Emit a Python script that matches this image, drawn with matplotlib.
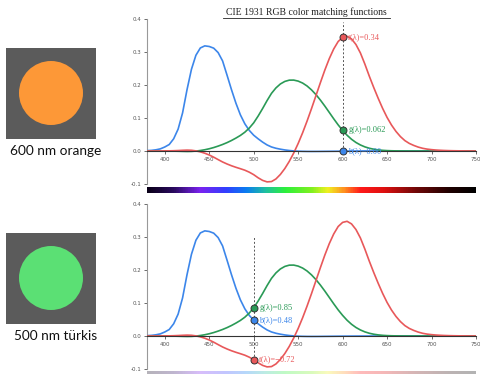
import matplotlib
matplotlib.use("Agg")
import matplotlib.pyplot as plt
import numpy as np
from matplotlib.colors import LinearSegmentedColormap
from matplotlib.patches import Circle, Rectangle

# CIE 1931 RGB colour matching functions, 5 nm steps
wl = np.arange(380, 755, 5)
r_bar = [0.00003, 0.00005, 0.00010, 0.00017, 0.00030, 0.00047, 0.00084, 0.00139, 0.00211, 0.00266,
         0.00218, 0.00036, -0.00261, -0.00673, -0.01213, -0.01874, -0.02608, -0.03324, -0.03933, -0.04471,
         -0.04939, -0.05364, -0.05814, -0.06414, -0.07173, -0.08120, -0.08901, -0.09356, -0.09264, -0.08473,
         -0.07101, -0.05316, -0.03152, -0.00613, 0.02279, 0.05514, 0.09060, 0.12840, 0.16768, 0.20715,
         0.24526, 0.27989, 0.30928, 0.33184, 0.34429, 0.34756, 0.33971, 0.32265, 0.29708, 0.26348,
         0.22677, 0.19233, 0.15968, 0.12905, 0.10167, 0.07857, 0.05932, 0.04366, 0.03149, 0.02294,
         0.01687, 0.01187, 0.00819, 0.00572, 0.00410, 0.00291, 0.00210, 0.00148, 0.00105, 0.00074,
         0.00052, 0.00036, 0.00025, 0.00017, 0.00012]
g_bar = [-0.00001, -0.00002, -0.00004, -0.00007, -0.00014, -0.00022, -0.00041, -0.00070, -0.00110, -0.00143,
         -0.00119, -0.00021, 0.00149, 0.00379, 0.00678, 0.01046, 0.01485, 0.01977, 0.02538, 0.03183,
         0.03914, 0.04713, 0.05689, 0.06948, 0.08536, 0.10593, 0.12860, 0.15262, 0.17468, 0.19113,
         0.20317, 0.21083, 0.21466, 0.21487, 0.21178, 0.20588, 0.19702, 0.18522, 0.17087, 0.15429,
         0.13610, 0.11686, 0.09754, 0.07909, 0.06246, 0.04776, 0.03557, 0.02583, 0.01828, 0.01253,
         0.00833, 0.00537, 0.00334, 0.00199, 0.00116, 0.00066, 0.00037, 0.00021, 0.00011, 0.00006,
         0.00003, 0.00001, 0.00001, 0.0, 0.0, 0.0, 0.0, 0.0, 0.0, 0.0,
         0.0, 0.0, 0.0, 0.0, 0.0]
b_bar = [0.00117, 0.00189, 0.00359, 0.00647, 0.01214, 0.01969, 0.03707, 0.06637, 0.11541, 0.18575,
         0.24769, 0.29012, 0.31228, 0.31860, 0.31670, 0.31166, 0.29821, 0.27295, 0.22991, 0.18592,
         0.14494, 0.10968, 0.08257, 0.06246, 0.04776, 0.03688, 0.02698, 0.01842, 0.01221, 0.00830,
         0.00549, 0.00320, 0.00146, 0.00023, -0.00058, -0.00105, -0.00130, -0.00138, -0.00135, -0.00123,
         -0.00108, -0.00093, -0.00079, -0.00063, -0.00049, -0.00038, -0.00030, -0.00022, -0.00015, -0.00011,
         -0.00008, -0.00005, -0.00003, -0.00002, -0.00001, -0.00001, 0.0, 0.0, 0.0, 0.0,
         0.0, 0.0, 0.0, 0.0, 0.0, 0.0, 0.0, 0.0, 0.0, 0.0,
         0.0, 0.0, 0.0, 0.0, 0.0]

# the two marked wavelengths and their labels
panels = [
    {"nm": 600, "name": "600 nm orange", "swatch": "#fd9837", "dash": (0.0, 0.39),
     "labels": {"r": "r̄(λ)=0.34", "g": "ḡ(λ)=0.062", "b": "b̄(λ)=0.00"}},
    {"nm": 500, "name": "500 nm türkis", "swatch": "#5be074", "dash": (-0.072, 0.30),
     "labels": {"r": "r̄(λ)=−0.72", "g": "ḡ(λ)=0.85", "b": "b̄(λ)=0.48"}},
]

red, green, blue = "#e8585a", "#2a9a56", "#3c86ea"
curves = {"r": (r_bar, red), "g": (g_bar, green), "b": (b_bar, blue)}

spectrum = LinearSegmentedColormap.from_list("spec", [
    (0.0, "#0a0018"), (0.08, "#2a0a60"), (0.16, "#7a22f0"), (0.24, "#3040ff"),
    (0.30, "#0a7cf0"), (0.36, "#20c0a0"), (0.42, "#2cf03c"), (0.50, "#80f020"),
    (0.55, "#f0f020"), (0.60, "#ff9020"), (0.65, "#ff1a1a"), (0.72, "#e01010"),
    (0.82, "#700808"), (0.92, "#200000"), (1.0, "#000000")])

W, H = 480, 374
fig = plt.figure(figsize=(W / 100, H / 100), dpi=100)
serif = ["Liberation Serif", "DejaVu Serif"]

ax_tops = [19, 204]
for p, top in zip(panels, ax_tops):
    bottom = top + 165
    ax = fig.add_axes([147 / W, 1 - bottom / H, 329 / W, 165 / H])
    for key in ["b", "g", "r"]:
        vals, col = curves[key]
        ax.plot(wl, vals, color=col, lw=1.2, zorder=3)
    ax.set_xlim(380, 750)
    ax.set_ylim(-0.1, 0.4)
    ax.spines["top"].set_visible(False)
    ax.spines["right"].set_visible(False)
    ax.spines["bottom"].set_position(("data", 0))
    ax.spines["bottom"].set_color("#333333")
    ax.spines["left"].set_color("#999999")
    ax.spines["bottom"].set_zorder(4)
    ax.set_xticks(range(400, 751, 50))
    ax.set_yticks([-0.1, 0.0, 0.1, 0.2, 0.3, 0.4])
    ax.set_yticklabels(["-0.1", "0.0", "0.1", "0.2", "0.3", "0.4"])
    ax.tick_params(labelsize=4, colors="#555555", length=2.5, width=0.6, pad=1.5)
    ax.patch.set_alpha(0)

    i = list(wl).index(p["nm"])
    ax.plot([p["nm"], p["nm"]], p["dash"], ls=(0, (2, 2)), color="#555555", lw=0.7, zorder=2)
    for key in ["r", "g", "b"]:
        vals, col = curves[key]
        ax.plot(p["nm"], vals[i], "o", ms=5, mfc=col, mec="#333333", mew=0.7, zorder=5)
        ax.annotate(p["labels"][key], (p["nm"], vals[i]), xytext=(4, 0), textcoords="offset points",
                    va="center", ha="left", color=col, fontsize=6, family=serif, zorder=6)

# spectrum strips
grad = np.linspace(0, 1, 400).reshape(1, -1)
sax = fig.add_axes([147 / W, 1 - 193 / H, 329 / W, 6 / H])
sax.imshow(grad, aspect="auto", cmap=spectrum, extent=[380, 750, 0, 1])
sax.axis("off")
sax2 = fig.add_axes([147 / W, 0, 329 / W, 3 / H])
sax2.imshow(grad, aspect="auto", cmap=spectrum, extent=[380, 750, 0, 1], alpha=0.3)
sax2.axis("off")

# title, underlined
t = fig.text(306 / W, 1 - 12 / H, "CIE 1931 RGB color matching functions", ha="center", va="center",
             fontsize=7, family=serif, color="#222222")
fig.add_artist(plt.Line2D([223 / W, 390 / W], [1 - 18 / H, 1 - 18 / H], color="#222222", lw=0.6))

# colour swatches on the left
for p, sy in zip(panels, [48, 233]):
    fig.add_artist(Rectangle((6 / W, 1 - (sy + 91) / H), 90 / W, 91 / H, transform=fig.transFigure,
                             facecolor="#5b5b5b", edgecolor="none"))
    fig.add_artist(Circle((51, H - (sy + 45)), 32, transform=None, facecolor=p["swatch"], edgecolor="none"))
    fig.text(56 / W, 1 - (sy + 103) / H, p["name"], ha="center", va="center", fontsize=9.8,
             family=["Lato", "DejaVu Sans"], color="#111111")

fig.savefig("out.png", dpi=100)
